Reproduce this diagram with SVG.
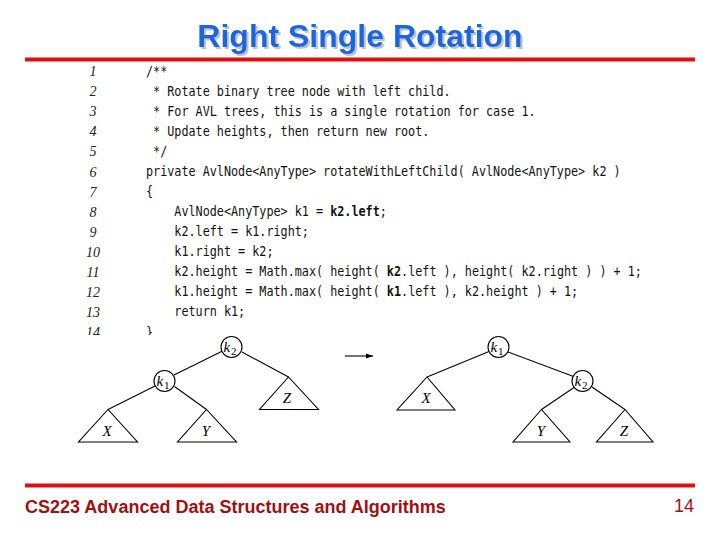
<svg xmlns="http://www.w3.org/2000/svg" width="720" height="540" viewBox="0 0 720 540">
<style>
.ln{font-family:"Liberation Serif",serif;font-style:italic;font-size:14px;fill:#222;text-anchor:middle}
.code{font-family:"DejaVu Sans Mono",monospace;font-size:13.5px;fill:#111;white-space:pre}
.b{font-weight:bold}
.edge{stroke:#000;stroke-width:1.1;fill:none}
.tri{stroke:#000;stroke-width:1.1;fill:#fff}
.circ{stroke:#000;stroke-width:1.1;fill:#fff}
.k{font-family:"Liberation Serif",serif;font-style:italic;font-size:15px;fill:#000}
.sub{font-family:"Liberation Serif",serif;font-size:11px;fill:#000}
.lab{font-family:"Liberation Serif",serif;font-style:italic;font-size:15px;fill:#000;text-anchor:middle}
.rule{fill:#e01010}
</style>
<defs>
<clipPath id="codeclip"><rect x="0" y="62" width="720" height="273"/></clipPath>
<filter id="shadow" x="-5%" y="-20%" width="110%" height="150%">
<feOffset in="SourceAlpha" dx="2" dy="2" result="o"/>
<feFlood flood-color="#bcc4d2"/>
<feComposite in2="o" operator="in" result="s"/>
<feMerge><feMergeNode in="s"/><feMergeNode in="SourceGraphic"/></feMerge>
</filter>
<marker id="ah" markerWidth="8" markerHeight="6" refX="7" refY="3" orient="auto" markerUnits="userSpaceOnUse">
<path d="M0,0.5 L7,3 L0,5.5 Z" fill="#000"/>
</marker>
</defs>
<rect width="720" height="540" fill="#fff"/>
<g id="title">
<text x="360" y="47" font-family="Liberation Sans,Arial,sans-serif" font-weight="bold" font-size="32" fill="#1f66dd" text-anchor="middle" filter="url(#shadow)">Right Single Rotation</text>
</g>
<rect class="rule" x="25" y="57.5" width="670" height="4"/>
<g id="code" clip-path="url(#codeclip)">
<g id="linenos">
<text class="ln" x="93" y="76">1</text>
<text class="ln" x="93" y="96">2</text>
<text class="ln" x="93" y="116">3</text>
<text class="ln" x="93" y="136">4</text>
<text class="ln" x="93" y="156">5</text>
<text class="ln" x="93" y="176.5">6</text>
<text class="ln" x="93" y="196.5">7</text>
<text class="ln" x="93" y="216.5">8</text>
<text class="ln" x="93" y="236.5">9</text>
<text class="ln" x="93" y="256.5">10</text>
<text class="ln" x="93" y="276.5">11</text>
<text class="ln" x="93" y="296.5">12</text>
<text class="ln" x="93" y="316.5">13</text>
<text class="ln" x="93" y="337">14</text>
</g>
<g transform="matrix(0.8724 0 0 1 146 0)">
<text class="code" xml:space="preserve" x="0" y="76">/**</text>
<text class="code" xml:space="preserve" x="0" y="96"> * Rotate binary tree node with left child.</text>
<text class="code" xml:space="preserve" x="0" y="116"> * For AVL trees, this is a single rotation for case 1.</text>
<text class="code" xml:space="preserve" x="0" y="136"> * Update heights, then return new root.</text>
<text class="code" xml:space="preserve" x="0" y="156"> */</text>
<text class="code" xml:space="preserve" x="0" y="176.5">private AvlNode&lt;AnyType&gt; rotateWithLeftChild( AvlNode&lt;AnyType&gt; k2 )</text>
<text class="code" xml:space="preserve" x="0" y="196.5">{</text>
<text class="code" xml:space="preserve" x="0" y="216.5">    AvlNode&lt;AnyType&gt; k1 = <tspan class="b">k2.left</tspan>;</text>
<text class="code" xml:space="preserve" x="0" y="236.5">    k2.left = k1.right;</text>
<text class="code" xml:space="preserve" x="0" y="256.5">    k1.right = k2;</text>
<text class="code" xml:space="preserve" x="0" y="276.5">    k2.height = Math.max( height( <tspan class="b">k2</tspan>.left ), height( k2.right ) ) + 1;</text>
<text class="code" xml:space="preserve" x="0" y="296.5">    k1.height = Math.max( height( <tspan class="b">k1</tspan>.left ), k2.height ) + 1;</text>
<text class="code" xml:space="preserve" x="0" y="316.5">    return k1;</text>
<text class="code" xml:space="preserve" x="0" y="337">}</text>
</g>
</g>
<g id="connectors">
<line class="edge" x1="222.5" y1="351" x2="174" y2="375"/>
<line class="edge" x1="242" y1="352" x2="288.5" y2="377"/>
<line class="edge" x1="155" y1="386" x2="108" y2="409.5"/>
<line class="edge" x1="174.5" y1="386.5" x2="206.5" y2="409.5"/>
<line class="edge" x1="489" y1="351.5" x2="427" y2="377"/>
<line class="edge" x1="508" y1="352" x2="573.5" y2="376.5"/>
<line class="edge" x1="575.5" y1="386.5" x2="541.5" y2="409.5"/>
<line class="edge" x1="592" y1="387" x2="625" y2="409.5"/>
<line class="edge" x1="345" y1="356" x2="373" y2="356" marker-end="url(#ah)"/>
</g>
<g id="left-k2"><circle class="circ" cx="231.5" cy="347" r="10.5"/><text class="k" x="223.5" y="352">k</text><text class="sub" x="231" y="355">2</text></g>
<g id="left-k1"><circle class="circ" cx="164.5" cy="381" r="10.5"/><text class="k" x="156.5" y="386">k</text><text class="sub" x="164" y="389">1</text></g>
<g id="left-X"><polygon class="tri" points="108,409.5 78.5,442 137.5,442"/><text class="lab" x="107" y="436">X</text></g>
<g id="left-Y"><polygon class="tri" points="206.5,409.5 177.5,442 236.5,442"/><text class="lab" x="206" y="436">Y</text></g>
<g id="left-Z"><polygon class="tri" points="288.5,377 259.5,409.5 318.5,409.5"/><text class="lab" x="287" y="403">Z</text></g>
<g id="right-k1"><circle class="circ" cx="498.5" cy="347" r="10.5"/><text class="k" x="490.5" y="352">k</text><text class="sub" x="498" y="355">1</text></g>
<g id="right-k2"><circle class="circ" cx="582.5" cy="381" r="10.5"/><text class="k" x="574.5" y="386">k</text><text class="sub" x="582" y="389">2</text></g>
<g id="right-X"><polygon class="tri" points="427,377 397,410 455,410"/><text class="lab" x="426" y="403">X</text></g>
<g id="right-Y"><polygon class="tri" points="541.5,409.5 513,442 570,442"/><text class="lab" x="541" y="436">Y</text></g>
<g id="right-Z"><polygon class="tri" points="625,409.5 596.5,442 653,442"/><text class="lab" x="624" y="436">Z</text></g>
<rect class="rule" x="25" y="483.5" width="670" height="4"/>
<g id="footer">
<text x="25" y="513" font-family="Liberation Sans,Arial,sans-serif" font-weight="bold" font-size="18" fill="#a30f0f">CS223 Advanced Data Structures and Algorithms</text>
<text x="694" y="512" font-family="Liberation Sans,Arial,sans-serif" font-size="18" fill="#a30f0f" text-anchor="end">14</text>
</g>
</svg>
